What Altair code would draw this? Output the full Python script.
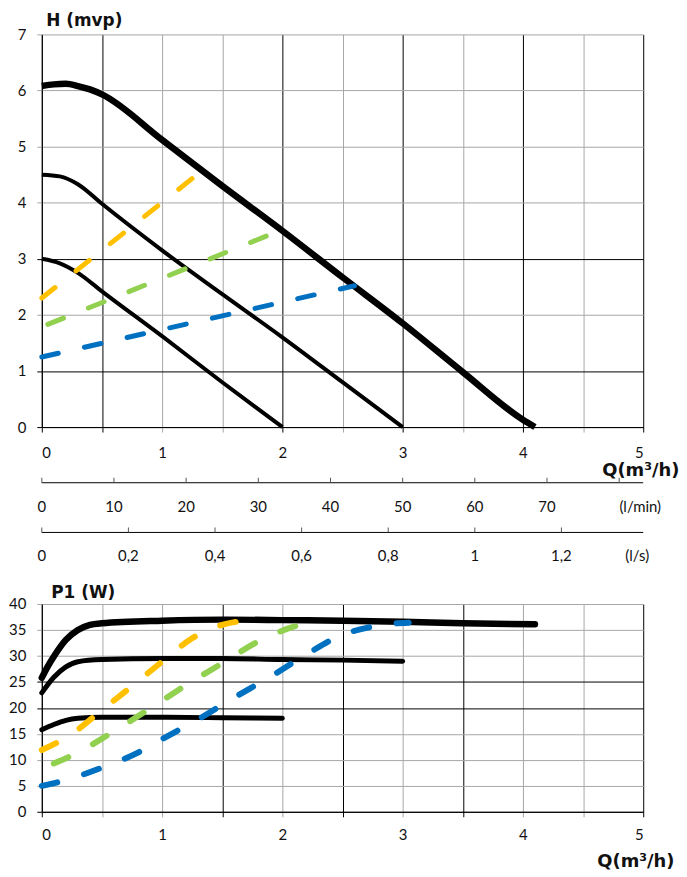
import json
import altair as alt
import pandas as pd

# ---------------- data: head curves H (mvp) vs Q (m3/h) ----------------
h_max_q = [0, 0.1, 0.2, 0.3, 0.4, 0.5, 1.0, 1.5, 2.0, 2.5, 3.0, 3.5, 4.0, 4.1]
h_max_v = [6.08, 6.11, 6.12, 6.08, 6.02, 5.93, 5.12, 4.3, 3.5, 2.67, 1.85, 0.98, 0.13, 0.0]
h_mid_q = [0, 0.15, 0.3, 0.5, 1.0, 1.5, 2.0, 2.5, 3.0]
h_mid_v = [4.5, 4.47, 4.33, 3.98, 3.15, 2.37, 1.6, 0.8, 0.0]
h_low_q = [0, 0.15, 0.3, 0.5, 1.0, 1.5, 2.0]
h_low_v = [3.0, 2.92, 2.75, 2.42, 1.62, 0.8, 0.0]
h_yellow_q = [0, 1.32]
h_yellow_v = [2.3, 4.55]
h_green_q = [0.05, 2.0]
h_green_v = [1.83, 3.52]
h_blue_q = [0, 2.6]
h_blue_v = [1.25, 2.52]

# ---------------- data: power curves P1 (W) vs Q (m3/h) ----------------
p_max_q = [0, 0.05, 0.1, 0.2, 0.3, 0.4, 0.5, 1.0, 1.5, 2.0, 2.5, 3.0, 3.5, 4.1]
p_max_v = [25.8, 28.0, 29.9, 33.1, 35.0, 36.0, 36.3, 36.8, 37.0, 36.9, 36.8, 36.6, 36.3, 36.1]
p_mid_q = [0, 0.1, 0.2, 0.3, 0.5, 1.0, 1.5, 2.0, 2.5, 3.0]
p_mid_v = [22.9, 25.9, 27.9, 28.9, 29.3, 29.5, 29.5, 29.3, 29.2, 29.0]
p_low_q = [0, 0.1, 0.2, 0.3, 0.5, 1.0, 1.5, 2.0]
p_low_v = [15.8, 16.8, 17.6, 18.0, 18.2, 18.2, 18.1, 18.0]
p_yellow_q = [0, 0.25, 0.5, 0.75, 1.0, 1.25, 1.5, 1.65]
p_yellow_v = [11.9, 15.0, 19.6, 24.2, 28.9, 33.4, 36.0, 36.7]
p_green_q = [0.1, 0.3, 0.6, 0.9, 1.2, 1.5, 1.8, 2.05, 2.2]
p_green_v = [9.3, 11.4, 15.5, 19.9, 24.4, 28.6, 32.8, 35.3, 36.3]
p_blue_q = [0, 0.2, 0.5, 0.8, 1.0, 1.3, 1.6, 1.9, 2.2, 2.5, 2.7, 2.85, 3.05]
p_blue_v = [5.0, 6.1, 8.5, 11.4, 14.0, 17.8, 22.0, 26.0, 30.3, 34.1, 35.4, 36.1, 36.4]

# ---------------- axis ticks / labels ----------------
q_ticks = [0, 0.5, 1, 1.5, 2, 2.5, 3, 3.5, 4, 4.5, 5]
q_labels = ["0", "", "1", "", "2", "", "3", "", "4", "", "5"]
h_ticks = [0, 1, 2, 3, 4, 5, 6, 7]
p_ticks = [0, 5, 10, 15, 20, 25, 30, 35, 40]
lmin_ticks = [0, 10, 20, 30, 40, 50, 60, 70, 80]
lmin_labels = ["0", "10", "20", "30", "40", "50", "60", "70", ""]
ls_ticks = [0, 0.2, 0.4, 0.6, 0.8, 1.0, 1.2]
ls_labels = ["0", "0,2", "0,4", "0,6", "0,8", "1", "1,2"]

# dark (black) grid lines, the rest are grey
top_dark_x = [0, 0.5, 2, 3, 4, 5]
top_dark_y = [0, 1, 3]
bot_dark_x = [0, 1.5, 2.5, 3.5, 5]
bot_dark_y = [0, 20, 25]

YELLOW, GREEN, BLUE = "#FFC000", "#92D050", "#0070C0"
GREY = "#a6a6a6"
LABEL_FONT = "Lato"
TITLE_FONT = "DejaVu Sans"

W = 605
H_TOP = 395
H_BOT = 209


def frame(series):
    rows = []
    for name, (qs, vs) in series.items():
        for i, (q, v) in enumerate(zip(qs, vs)):
            rows.append({"s": name, "q": q, "v": v, "i": i})
    return pd.DataFrame(rows)


def label_expr(values, labels):
    return f"{json.dumps(labels)}[indexof({json.dumps(values)}, datum.value)]"


def dark_cond(values):
    return {"condition": {"test": f"indexof({json.dumps(values)}, datum.value) >= 0",
                          "value": "#000000"},
            "value": GREY}


def x_enc(dark, label_pad, title_y, title_x):
    return alt.X("q:Q", scale=alt.Scale(domain=[0, 5], nice=False),
                 axis=alt.Axis(values=q_ticks, tickCount=len(q_ticks) + 5,
                               labelExpr=label_expr(q_ticks, q_labels),
                               labelOverlap=False,
                               grid=True, gridColor=dark_cond(dark), gridWidth=1,
                               tickColor=dark_cond(dark), tickSize=5,
                               domainColor="#000000",
                               labelPadding=label_pad, labelFont=LABEL_FONT,
                               labelFontSize=15, labelColor="#111111",
                               title="Q(m³/h)", titleX=title_x, titleY=title_y,
                               titleAlign="right", titleBaseline="alphabetic",
                               titleFont=TITLE_FONT, titleFontSize=18,
                               titleFontWeight="bold", titleColor="#111111",
                               orient="bottom"))


def y_enc(ydom, values, dark, title, title_x, title_y):
    return alt.Y("v:Q", scale=alt.Scale(domain=ydom, nice=False),
                 axis=alt.Axis(values=values, tickCount=len(values) + 5,
                               labelExpr=label_expr(values, [str(v) for v in values]),
                               labelOverlap=False,
                               grid=True, gridColor=dark_cond(dark), gridWidth=1,
                               tickColor=dark_cond(dark), tickSize=5,
                               domainColor="#000000", labelPadding=11,
                               labelFont=LABEL_FONT, labelFontSize=15,
                               labelColor="#111111", title=title, titleAngle=0,
                               titleX=title_x, titleY=title_y, titleAlign="left",
                               titleBaseline="alphabetic", titleFont=TITLE_FONT,
                               titleFontSize=17, titleFontWeight="bold",
                               titleColor="#111111"))


def curve_layers(xs, ys, solid_thick, solid_thin, dashed, thick_w, thin_w, dash_w,
                 dash, cap):
    thick = alt.Chart(frame(solid_thick)).mark_line(
        color="#000000", strokeWidth=thick_w, interpolate="monotone", strokeCap=cap
    ).encode(x=xs, y=ys, detail="s:N", order="i:Q")
    thin = alt.Chart(frame(solid_thin)).mark_line(
        color="#000000", strokeWidth=thin_w, interpolate="monotone", strokeCap=cap
    ).encode(x=xs, y=ys, detail="s:N", order="i:Q")
    dash_l = alt.Chart(frame(dashed)).mark_line(
        strokeWidth=dash_w, strokeDash=dash, strokeCap="round", interpolate="monotone"
    ).encode(x=xs, y=ys, order="i:Q",
             color=alt.Color("s:N", scale=alt.Scale(domain=["yellow", "green", "blue"],
                                                    range=[YELLOW, GREEN, BLUE]),
                             legend=None))
    return [thick, thin, dash_l]


x_top = x_enc(top_dark_x, 13.5, 49, 641)
y_top = y_enc([0, 7], h_ticks, top_dark_y, "H (mvp)", 4, -9)
x_bot = x_enc(bot_dark_x, 10.5, 55, 636)
y_bot = y_enc([0, 40], p_ticks, bot_dark_y, "P1 (W)", 9, -7)

top_layers = curve_layers(
    x_top, y_top,
    {"max": (h_max_q, h_max_v)},
    {"mid": (h_mid_q, h_mid_v), "low": (h_low_q, h_low_v)},
    {"yellow": (h_yellow_q, h_yellow_v), "green": (h_green_q, h_green_v),
     "blue": (h_blue_q, h_blue_v)},
    6.5, 4, 5, [17, 27], "butt")

bottom_layers = curve_layers(
    x_bot, y_bot,
    {"max": (p_max_q, p_max_v)},
    {"mid": (p_mid_q, p_mid_v), "low": (p_low_q, p_low_v)},
    {"yellow": (p_yellow_q, p_yellow_v), "green": (p_green_q, p_green_v),
     "blue": (p_blue_q, p_blue_v)},
    6.5, 5, 6, [16, 28], "round")

# secondary flow scales under the top chart (l/min and l/s), drawn on the Q scale
LMIN_LINE = H_TOP + 56
LS_LINE = H_TOP + 106


def flow_axis(ticks, labels, to_q, line_y, title, title_x):
    tdf = pd.DataFrame({"t": ticks, "lab": labels})
    tdf["q"] = tdf["t"] * to_q
    ddf = pd.DataFrame({"q": [q_ticks[0]], "q2": [q_ticks[-1]]})
    domain = alt.Chart(ddf).mark_rule(color="#000000", strokeWidth=1).encode(
        x=x_top, x2="q2:Q", y=alt.value(line_y))
    tick = alt.Chart(tdf).mark_rule(color="#555555", strokeWidth=1).encode(
        x=x_top, y=alt.value(line_y - 5), y2=alt.value(line_y))
    lab = alt.Chart(tdf).mark_text(
        font=LABEL_FONT, fontSize=15, color="#111111", baseline="middle", align="center"
    ).encode(x=x_top, y=alt.value(line_y + 24), text="lab:N")
    ttl = alt.Chart(pd.DataFrame({"t": [title]})).mark_text(
        font=LABEL_FONT, fontSize=15, color="#111111", baseline="middle", align="center"
    ).encode(x=alt.value(title_x), y=alt.value(line_y + 24), text="t:N")
    return [domain, tick, lab, ttl]


lmin_layers = flow_axis(lmin_ticks, lmin_labels, 60 / 1000, LMIN_LINE, "(l/min)", 602)
ls_layers = flow_axis(ls_ticks, ls_labels, 3.6, LS_LINE, "(l/s)", 599)

top = alt.layer(*top_layers, *lmin_layers, *ls_layers).properties(width=W, height=H_TOP)
bottom = alt.layer(*bottom_layers).properties(width=W, height=H_BOT)

chart = alt.vconcat(top, bottom, spacing=178, bounds="flush").properties(
    padding={"left": 0, "top": 1, "right": 0, "bottom": 0}
).configure_view(stroke=None)

chart.save("out.html", embed_options={"renderer": "svg", "actions": False})
